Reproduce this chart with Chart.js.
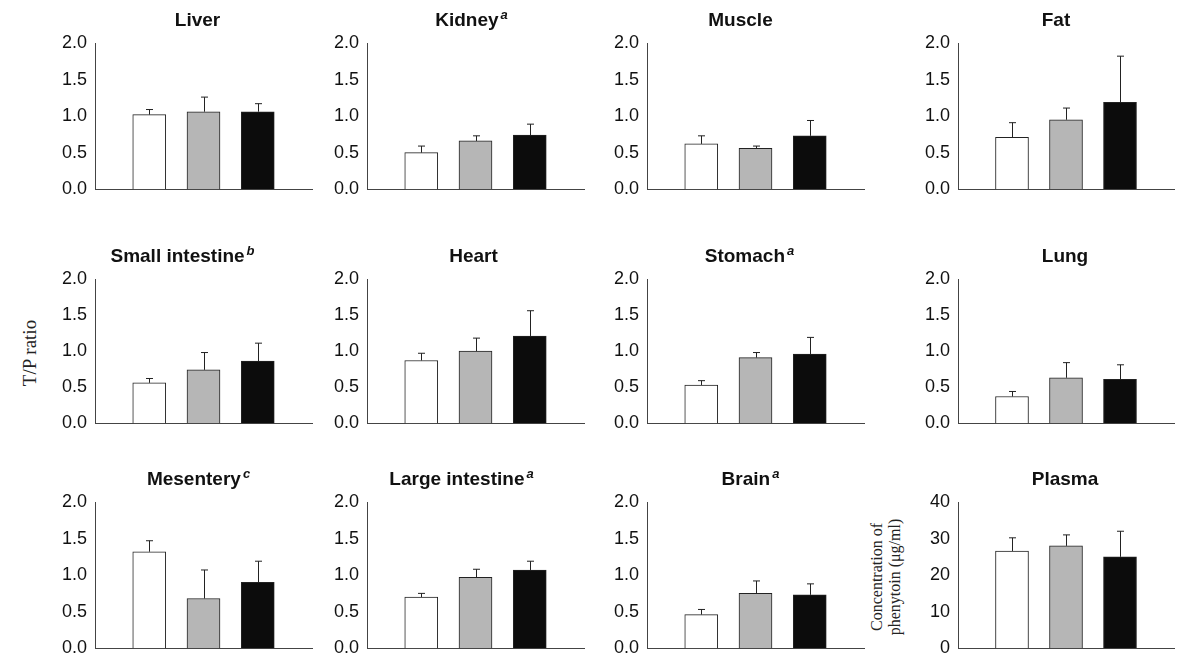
<!DOCTYPE html>
<html>
<head>
<meta charset="utf-8">
<title>T/P ratio of phenytoin</title>
<script src="https://cdn.jsdelivr.net/npm/chart.js@4.4.0/dist/chart.umd.min.js"></script>
<style>
  body { margin: 0; width: 1180px; height: 660px; overflow: hidden; background: #fff; position: relative; }
  canvas { position: absolute; }
  .side { position: absolute; font-family: "Liberation Serif", "Times New Roman", serif; color: #222;
          white-space: nowrap; text-align: center; transform: translate(-50%, -50%) rotate(-90deg); }
  #tp { left: 30px; top: 353px; font-size: 19px; }
  #conc { left: 886px; top: 577px; font-size: 16px; line-height: 18px; }
</style>
</head>
<body>
<div class="side" id="tp">T/P ratio</div>
<div class="side" id="conc">Concentration of<br>phenytoin (μg/ml)</div>
<script>
// Panel data
var tissues = ['Liver', 'Kidney', 'Muscle', 'Fat', 'Small intestine', 'Heart',
               'Stomach', 'Lung', 'Mesentery', 'Large intestine', 'Brain', 'Plasma'];
var notes = ['', 'a', '', '', 'b', '', 'a', '', 'c', 'a', 'a', ''];
var groups = ['Group 1', 'Group 2', 'Group 3'];

var whiteMean = [1.02, 0.50, 0.62, 0.71, 0.56, 0.87, 0.53, 0.37, 1.32, 0.70, 0.46, 26.6];
var whiteSD   = [0.07, 0.09, 0.11, 0.20, 0.06, 0.10, 0.06, 0.07, 0.15, 0.05, 0.07, 3.6];
var grayMean  = [1.06, 0.66, 0.56, 0.95, 0.74, 1.00, 0.91, 0.63, 0.68, 0.97, 0.75, 28.0];
var graySD    = [0.20, 0.07, 0.03, 0.16, 0.24, 0.18, 0.07, 0.21, 0.39, 0.11, 0.17, 3.0];
var blackMean = [1.06, 0.74, 0.73, 1.19, 0.86, 1.21, 0.96, 0.61, 0.90, 1.07, 0.73, 25.0];
var blackSD   = [0.11, 0.15, 0.21, 0.63, 0.25, 0.35, 0.23, 0.20, 0.29, 0.12, 0.15, 7.0];

var yMax  = [2, 2, 2, 2, 2, 2, 2, 2, 2, 2, 2, 40];
var yStep = [0.5, 0.5, 0.5, 0.5, 0.5, 0.5, 0.5, 0.5, 0.5, 0.5, 0.5, 10];
var yDecimals = [1, 1, 1, 1, 1, 1, 1, 1, 1, 1, 1, 0];

// Grid layout (plot area edges in page pixels)
var colLeft = [95, 367, 647, 958];
var colRight = [312, 584, 864, 1174];
var rowTop = [43, 279, 502];
var rowBottom = [194, 428, 653];
var titleShift = [-6, -4, -15, -10, -21, -2, -6, -1, -5, -14, -5, -1];

var AXIS_W = 55, PAD_R = 40, PAD_T = 40, PAD_B = 14;
var sans = '"Liberation Sans", Arial, sans-serif';

// upward-only error bars with a small cap
var errorBars = {
    id: 'errorBars',
    afterDatasetsDraw: function(chart, args, opts) {
        var ctx = chart.ctx;
        var yScale = chart.scales.y;
        var meta = chart.getDatasetMeta(0);
        var values = chart.data.datasets[0].data;
        ctx.save();
        ctx.strokeStyle = '#222';
        ctx.lineWidth = 1;
        meta.data.forEach(function(bar, i) {
            if (values[i] == null) return;
            var x = Math.round(bar.x) + 0.5;
            var yTop = yScale.getPixelForValue(values[i] + opts.sd[i]);
            ctx.beginPath();
            ctx.moveTo(x, bar.y);
            ctx.lineTo(x, yTop);
            ctx.moveTo(x - 3.5, yTop);
            ctx.lineTo(x + 3.5, yTop);
            ctx.stroke();
        });
        ctx.restore();
    }
};

// bold panel title with optional italic superscript
var panelTitle = {
    id: 'panelTitle',
    afterDraw: function(chart, args, opts) {
        var ctx = chart.ctx, a = chart.chartArea;
        ctx.save();
        ctx.fillStyle = '#111';
        ctx.textBaseline = 'middle';
        ctx.textAlign = 'left';
        ctx.font = 'bold 19px ' + sans;
        var w1 = ctx.measureText(opts.text).width;
        ctx.font = 'italic bold 13px ' + sans;
        var w2 = opts.note ? ctx.measureText(opts.note).width + 2 : 0;
        var x = (a.left + a.right) / 2 + opts.shift - (w1 + w2) / 2;
        var y = a.top - 22;
        ctx.font = 'bold 19px ' + sans;
        ctx.fillText(opts.text, x, y);
        if (opts.note) {
            ctx.font = 'italic bold 13px ' + sans;
            ctx.fillText(opts.note, x + w1 + 2, y - 6);
        }
        ctx.restore();
    }
};

function makePanel(p) {
    var col = p % 4, row = Math.floor(p / 4);
    var canvas = document.createElement('canvas');
    var w = colRight[col] - colLeft[col] + AXIS_W + PAD_R;
    var h = rowBottom[row] - rowTop[row] + PAD_T + PAD_B;
    canvas.width = w;
    canvas.height = h;
    canvas.style.left = (colLeft[col] - AXIS_W) + 'px';
    canvas.style.top = (rowTop[row] - PAD_T) + 'px';
    document.body.appendChild(canvas);

    var dec = yDecimals[p];
    new Chart(canvas.getContext('2d'), {
        type: 'bar',
        data: {
            labels: [''].concat(groups, ['']),
            datasets: [{
                data: [null, whiteMean[p], grayMean[p], blackMean[p], null],
                backgroundColor: ['#fff', '#ffffff', '#b6b6b6', '#0c0c0c', '#fff'],
                borderColor: '#222',
                borderWidth: 1,
                barThickness: 33
            }]
        },
        options: {
            responsive: false,
            animation: false,
            layout: { padding: { top: PAD_T, bottom: PAD_B, left: 0, right: PAD_R } },
            plugins: {
                legend: { display: false },
                tooltip: { enabled: false },
                errorBars: { sd: [null, whiteSD[p], graySD[p], blackSD[p], null] },
                panelTitle: { text: tissues[p], note: notes[p], shift: titleShift[p] }
            },
            scales: {
                x: {
                    offset: false,
                    grid: { display: false, drawTicks: false },
                    border: { display: true, color: '#444', width: 1 },
                    ticks: { display: false }
                },
                y: {
                    min: 0,
                    max: yMax[p],
                    grid: { display: false, drawTicks: false },
                    border: { display: true, color: '#444', width: 1 },
                    ticks: {
                        stepSize: yStep[p],
                        padding: 8,
                        color: '#111',
                        font: { family: sans, size: 18 },
                        callback: function(v) { return v.toFixed(dec); }
                    },
                    afterFit: function(s) { s.width = AXIS_W; }
                }
            }
        },
        plugins: [errorBars, panelTitle]
    });
}

for (var p = 0; p < tissues.length; p++) {
    makePanel(p);
}
</script>
</body>
</html>
